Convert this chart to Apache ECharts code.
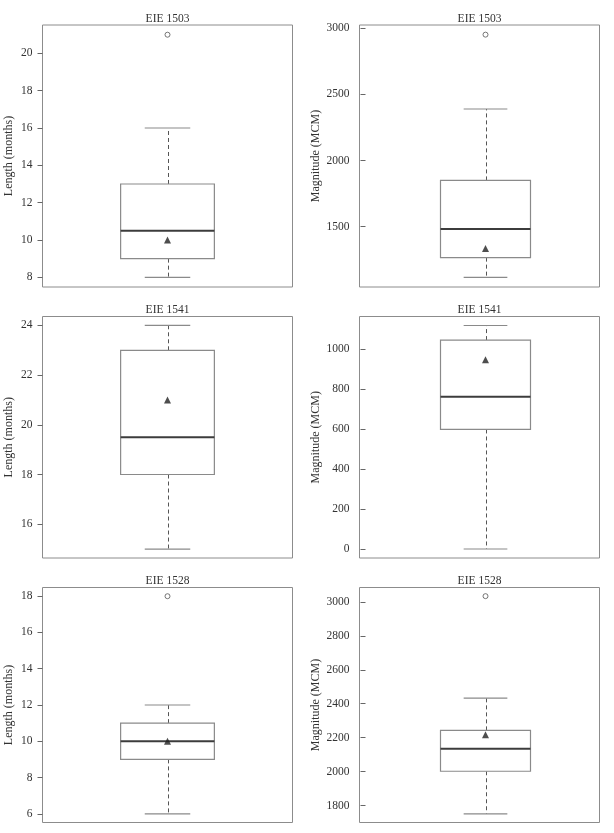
<!DOCTYPE html>
<html>
<head>
<meta charset="utf-8">
<script src="https://cdn.jsdelivr.net/npm/echarts@6/dist/echarts.min.js"></script>
<style>
html,body{margin:0;padding:0;background:#fff;}
#chart{width:614px;height:833px;}
</style>
</head>
<body>
<div id="chart"></div>
<script>
// ---- Data ----
const panelTitles = ['EIE 1503', 'EIE 1503', 'EIE 1541', 'EIE 1541', 'EIE 1528', 'EIE 1528'];
const yNames = ['Length (months)', 'Magnitude (MCM)', 'Length (months)', 'Magnitude (MCM)', 'Length (months)', 'Magnitude (MCM)'];

// box stats: [lower whisker, Q1, median, Q3, upper whisker]
const length1503 = [8, 9, 10.5, 13, 16];
const magnitude1503 = [1117, 1266, 1483, 1850, 2390];
const length1541 = [15, 18, 19.5, 23, 24];
const magnitude1541 = [0, 598, 762, 1045, 1118];
const length1528 = [6, 9, 10, 11, 12];
const magnitude1528 = [1751, 2002, 2134, 2243, 2433];

const means = [10, 1336, 21, 947, 10, 2217];

const outliers1503L = [21];
const outliers1503M = [2952];
const outliers1541L = [];
const outliers1541M = [];
const outliers1528L = [18];
const outliers1528M = [3034];

// axis ranges and tick labels
const yMins = [7.48, 1044, 14.64, -45, 5.52, 1700];
const yMaxs = [21.52, 3025, 24.36, 1163, 18.48, 3085];
const ticks1503L = [8, 10, 12, 14, 16, 18, 20];
const ticks1503M = [1500, 2000, 2500, 3000];
const ticks1541L = [16, 18, 20, 22, 24];
const ticks1541M = [0, 200, 400, 600, 800, 1000];
const ticks1528L = [6, 8, 10, 12, 14, 16, 18];
const ticks1528M = [1800, 2000, 2200, 2400, 2600, 2800, 3000];

const boxStats = [length1503, magnitude1503, length1541, magnitude1541, length1528, magnitude1528];
const outlierSets = [outliers1503L, outliers1503M, outliers1541L, outliers1541M, outliers1528L, outliers1528M];
const tickSets = [ticks1503L, ticks1503M, ticks1541L, ticks1541M, ticks1528L, ticks1528M];

// ---- Layout ----
const colLeft = [42.5, 359.5];
const colWidth = [250, 240];
const colXMin = [0, -0.05];
const colXMax = [2, 1.95];
const rowTop = [25, 316.5, 587.5];
const rowHeight = [262, 241.5, 235];
const titleTop = [12.5, 303.5, 575];
const nameGaps = [28, 38];

const FONT = '"Liberation Serif", "DejaVu Serif", serif';
const TEXT = '#333';
const BOXC = '#8a8a8a';

const grids = [], xAxes = [], yAxes = [], series = [], titles = [];
for (let i = 0; i < 6; i++) {
  const col = i % 2, row = Math.floor(i / 2);
  grids.push({
    left: colLeft[col], top: rowTop[row], width: colWidth[col], height: rowHeight[row],
    show: true, borderColor: '#8c8c8c', borderWidth: 1, backgroundColor: 'transparent'
  });
  titles.push({
    text: panelTitles[i], left: colLeft[col] + colWidth[col] / 2, top: titleTop[row],
    textAlign: 'center', padding: 0,
    textStyle: { fontFamily: FONT, fontSize: 11.5, fontWeight: 'normal', color: TEXT }
  });
  xAxes.push({ type: 'value', gridIndex: i, min: colXMin[col], max: colXMax[col], show: false });
  yAxes.push({
    type: 'value', gridIndex: i, min: yMins[i], max: yMaxs[i],
    name: yNames[i], nameLocation: 'middle', nameGap: nameGaps[col],
    nameTextStyle: { fontFamily: FONT, fontSize: 12, color: TEXT },
    axisLine: { show: false },
    axisTick: { show: true, length: 5, customValues: tickSets[i], lineStyle: { color: '#666' } },
    axisLabel: { customValues: tickSets[i], margin: 10, fontFamily: FONT, fontSize: 11.5, color: TEXT,
      formatter: v => String(v) },
    splitLine: { show: false }
  });
  const s = boxStats[i];
  series.push({
    type: 'custom', xAxisIndex: i, yAxisIndex: i,
    data: [[1, s[0], s[1], s[2], s[3], s[4]]],
    encode: { x: 0, y: [1, 2, 3, 4, 5] },
    renderItem: function (params, api) {
      const x = api.value(0);
      const mn = api.value(1), q1 = api.value(2), md = api.value(3), q3 = api.value(4), mx = api.value(5);
      const hb = 0.375, hc = 0.182;
      const c = (a, b) => api.coord([a, b]);
      const tl = c(x - hb, q3), br = c(x + hb, q1);
      const cx = Math.round(c(x, 0)[0]) + 0.5;
      const pMd = c(0, md)[1], pMn = c(0, mn)[1], pMx = c(0, mx)[1], pQ1 = br[1], pQ3 = tl[1];
      const capL = c(x - hc, 0)[0], capR = c(x + hc, 0)[0];
      const solid = { stroke: BOXC, lineWidth: 1.2, fill: null };
      const dashed = { stroke: '#555', lineWidth: 1, lineDash: [4, 3] };
      return {
        type: 'group',
        children: [
          { type: 'line', shape: { x1: cx, y1: pQ3, x2: cx, y2: pMx }, style: dashed },
          { type: 'line', shape: { x1: cx, y1: pQ1, x2: cx, y2: pMn }, style: dashed },
          { type: 'line', shape: { x1: capL, y1: pMx, x2: capR, y2: pMx }, style: solid },
          { type: 'line', shape: { x1: capL, y1: pMn, x2: capR, y2: pMn }, style: solid },
          { type: 'rect', shape: { x: tl[0], y: tl[1], width: br[0] - tl[0], height: br[1] - tl[1] }, style: { stroke: BOXC, lineWidth: 1.2, fill: '#fff' } },
          { type: 'line', shape: { x1: tl[0], y1: pMd, x2: br[0], y2: pMd }, style: { stroke: '#3c3c3c', lineWidth: 2 } }
        ]
      };
    },
    z: 2
  });
  series.push({
    type: 'scatter', xAxisIndex: i, yAxisIndex: i,
    data: [[1, means[i]]], symbol: 'triangle', symbolSize: 7,
    itemStyle: { color: '#222' }, z: 5, silent: true
  });
  series.push({
    type: 'scatter', xAxisIndex: i, yAxisIndex: i,
    data: outlierSets[i].map(v => [1, v]), symbol: 'circle', symbolSize: 5,
    itemStyle: { color: '#fff', borderColor: '#555', borderWidth: 1 }, z: 5, silent: true
  });
}

const chart = echarts.init(document.getElementById('chart'), null, { renderer: 'canvas' });
chart.setOption({
  animation: false,
  backgroundColor: '#fff',
  title: titles,
  grid: grids,
  xAxis: xAxes,
  yAxis: yAxes,
  series: series
});
</script>
</body>
</html>
